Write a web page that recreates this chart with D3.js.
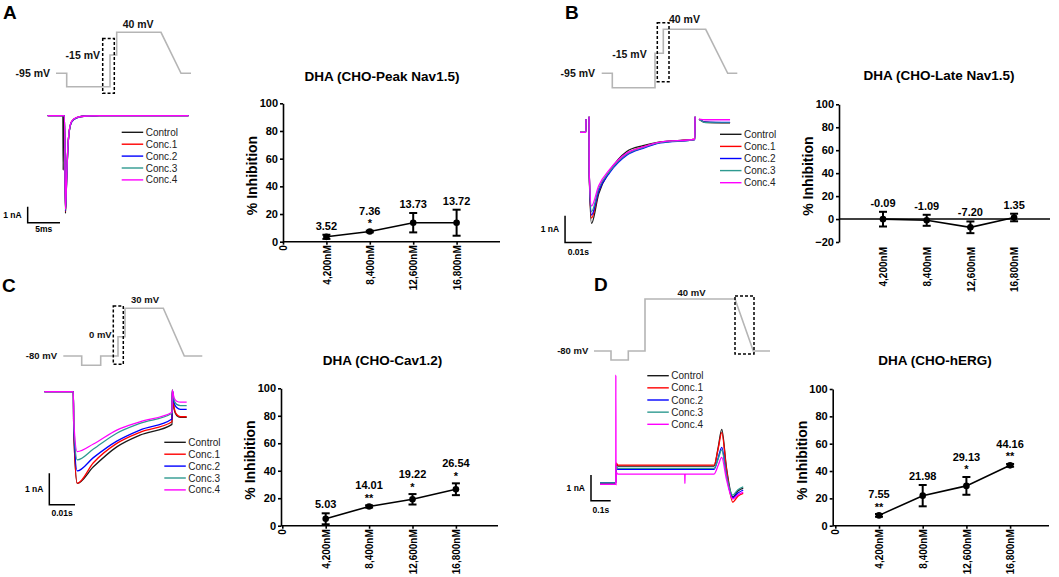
<!DOCTYPE html>
<html><head><meta charset="utf-8">
<script src="https://cdn.jsdelivr.net/npm/d3@7"></script>
<style>
body{margin:0;background:#fff;}
text{font-family:"Liberation Sans",Arial,sans-serif;}
</style></head><body>
<svg id="fig" width="1059" height="577"></svg>
<script>
// ---------------- DATA ----------------
const categories = ["4,200nM","8,400nM","12,600nM","16,800nM"];
const concentrations = [4200,8400,12600,16800];
const yTicksPos = [0,20,40,60,80,100];
const yTicksLate = [-20,0,20,40,60,80,100];

const peakNavMean = [3.52,7.36,13.73,13.72];
const peakNavSem  = [1.5,0.6,7.0,9.4];
const peakNavSig  = ["","*","",""];

const lateNavMean = [-0.09,-1.09,-7.20,1.35];
const lateNavSem  = [6.4,4.8,5.1,3.3];
const lateNavSig  = ["","","",""];

const cavMean = [5.03,14.01,19.22,26.54];
const cavSem  = [4.0,0.8,3.8,4.3];
const cavSig  = ["","**","*","*"];

const hergMean = [7.55,21.98,29.13,44.16];
const hergSem  = [1.0,7.8,6.5,1.0];
const hergSig  = ["**","","*","**"];

const legendNames = ["Control","Conc.1","Conc.2","Conc.3","Conc.4"];
const legendColors = ["#1a1a1a","#ff0000","#0000ff","#2e9a90","#ff00ff"];

// voltage protocols (schematic time ms, mV)
const protoA_t = [0,10.7,10.7,54,54,60.7,60.7,105,125,135];
const protoA_v = [-95,-95,-120,-120,-15,-15,40,40,-95,-95];
const protoB_t = [0,10.6,10.6,53.3,53.3,61.6,61.6,104,126,135.6];
const protoB_v = [-95,-95,-120,-120,-15,-15,40,40,-95,-95];
const protoC_t = [0,18.4,18.4,37.4,37.4,54.7,54.7,61.7,61.7,100,121,139];
const protoC_v = [-80,-80,-90,-90,-80,-80,0,0,30,30,-80,-80];
const protoD_t = [0,17,17,34.3,34.3,51,51,141,159.3,176];
const protoD_v = [-80,-80,-90,-90,-80,-80,40,40,-80,-80];

// current traces (time ms, current nA)
const traceA_t = [0,2.35,2.4,2.45,2.6,2.75,2.95,3.1,3.3,3.7,4.5,6,8,21.8];
const traceA_I = [
  [0,0,-3.4,0,0,-6.1,-3.8,-2.2,-1.1,-0.38,-0.12,-0.02,0,0],
  [0,0,0,0,0,-6.0,-3.7,-2.15,-1.08,-0.37,-0.12,-0.02,0,0],
  [0,0,0,0,0,-5.95,-3.75,-2.2,-1.1,-0.4,-0.13,-0.02,0,0],
  [0,0,0,0,0,-5.9,-3.7,-2.15,-1.08,-0.38,-0.12,-0.02,0,0],
  [0,0,0,0,0,-5.85,-3.6,-2.1,-1.05,-0.36,-0.11,-0.02,0,0]
];
const traceB_t = [0,2.2,2.25,2.3,3.4,3.45,4.3,7,11.2,17.5,23.6,30,43,43.1,43.2,44.6,47,56.2];
const traceB_I = [
  [0,0,0.49,null,0.58,-1.5,-3.41,-2.3,-1.45,-0.72,-0.50,-0.36,-0.26,0.58,null,0.49,0.38,0.36],
  [0,0,0.49,null,0.58,-1.5,-3.21,-2.2,-1.45,-0.80,-0.55,-0.38,-0.26,0.58,null,0.49,0.37,0.35],
  [0,0,0.49,null,0.58,-1.5,-3.10,-2.2,-1.50,-0.86,-0.60,-0.40,-0.27,0.58,null,0.49,0.38,0.37],
  [0,0,0.49,null,0.58,-1.5,-2.97,-2.1,-1.45,-0.82,-0.57,-0.39,-0.27,0.58,null,0.49,0.36,0.35],
  [0,0,0.49,null,0.58,-1.5,-2.76,-2.0,-1.38,-0.78,-0.55,-0.37,-0.26,0.58,null,0.49,0.47,0.47]
];
const traceC_t = [0,11.3,11.45,12.8,19.1,28.2,37.2,49.7,49.8,50.5,51.5,53,55.4];
const traceC_I = [
  [0,0,-1.2,-2.89,-2.37,-1.74,-1.37,-1.03,0.05,-0.55,-0.75,-0.81,-0.81],
  [0,0,-1.2,-2.89,-2.24,-1.63,-1.28,-0.95,0.05,-0.50,-0.72,-0.79,-0.79],
  [0,0,-1.1,-2.50,-2.08,-1.56,-1.21,-0.86,0.05,-0.35,-0.50,-0.56,-0.56],
  [0,0,-1.0,-2.15,-1.81,-1.31,-1.00,-0.68,0.05,-0.27,-0.40,-0.44,-0.44],
  [0,0,-0.9,-1.89,-1.65,-1.21,-0.95,-0.65,0.05,-0.20,-0.30,-0.33,-0.33]
];
const traceD_t = [0,80,80.5,81.5,83,90,430,431,432,579,600,618,642,674,700,727];
const traceD_I = [
  [0.02,0.02,0.3,0.6,0.75,0.67,0.67,0.67,0.67,0.67,1.4,2.10,0.6,-0.53,-0.30,-0.19],
  [0.0,0.0,0.3,0.6,0.78,0.71,0.71,0.71,0.71,0.71,1.35,1.97,0.55,-0.73,-0.50,-0.39],
  [0.02,0.02,0.3,0.5,0.62,0.54,0.54,0.54,0.54,0.54,1.0,1.40,0.3,-0.57,-0.38,-0.26],
  [0.02,0.02,0.3,0.5,0.66,0.58,0.58,0.58,0.58,0.58,0.95,1.30,0.3,-0.46,-0.25,-0.14],
  [-0.04,-0.04,4.21,-0.07,0.42,0.36,0.36,0.0,0.36,0.36,0.7,1.01,0.15,-0.61,-0.45,-0.34]
];

// ---------------- DRAWING ----------------
const svg = d3.select("#fig");
svg.append("rect").attr("width",1059).attr("height",577).attr("fill","#fff");

// panel letters
[["A",3,19],["B",565,19],["C",2,292],["D",594,291]].forEach(([t,x,y])=>{
  svg.append("text").attr("x",x).attr("y",y).text(t)
    .attr("font-size",19).attr("font-weight","bold").attr("fill","#000");
});

// ---- line charts
const chartCfgs = [
  {title:"DHA (CHO-Peak Nav1.5)", mean:peakNavMean, sem:peakNavSem, sig:peakNavSig,
   axisX:283, zeroX:283, span:217, axisEnd:500, yTop:103.3, yBottom:241.7, yDomain:[0,100], ticks:yTicksPos, titleX:382, titleY:76, showZero:true},
  {title:"DHA (CHO-Late Nav1.5)", mean:lateNavMean, sem:lateNavSem, sig:lateNavSig,
   axisX:839, zeroX:839.3, span:218.5, axisEnd:1050, yTop:104.3, yBottom:242, yDomain:[-20,100], ticks:yTicksLate, titleX:939, titleY:75, showZero:false},
  {title:"DHA (CHO-Cav1.2)", mean:cavMean, sem:cavSem, sig:cavSig,
   axisX:281, zeroX:282.3, span:217, axisEnd:498, yTop:388.3, yBottom:525.7, yDomain:[0,100], ticks:yTicksPos, titleX:382.5, titleY:360, showZero:true},
  {title:"DHA (CHO-hERG)", mean:hergMean, sem:hergSem, sig:hergSig,
   axisX:832.7, zeroX:835.3, span:218.5, axisEnd:1049, yTop:389, yBottom:525.7, yDomain:[0,100], ticks:yTicksPos, titleX:935, titleY:360, showZero:true}
];

function drawChart(c){
  const g = svg.append("g");
  const x = d3.scaleLinear().domain([0,21000]).range([c.zeroX, c.zeroX + c.span]);
  const y = d3.scaleLinear().domain(c.yDomain).range([c.yBottom, c.yTop]);

  g.append("text").attr("x",c.titleX).attr("y",c.titleY).attr("dy","0.35em")
    .attr("text-anchor","middle").attr("font-size",13.5).attr("font-weight","bold").text(c.title);

  const ya = g.append("g").attr("transform",`translate(${c.axisX},0)`)
    .call(d3.axisLeft(y).tickValues(c.ticks).tickSize(3).tickSizeOuter(0).tickPadding(2));
  ya.selectAll("path,line").attr("stroke","#000").attr("stroke-width",1.6);
  ya.selectAll("text").attr("font-size",11).attr("font-weight","bold").attr("fill","#000")
    .attr("font-family","Liberation Sans, Arial, sans-serif");

  g.append("text")
    .attr("transform",`translate(${c.axisX-31},${(c.yTop+c.yBottom)/2+3}) rotate(-90)`)
    .attr("text-anchor","middle").attr("dy","0.35em")
    .attr("font-size",14).attr("font-weight","bold").text("% Inhibition");

  // x axis line at zero
  g.append("line").attr("x1",c.axisX).attr("x2",c.axisEnd).attr("y1",y(0)).attr("y2",y(0))
    .attr("stroke","#000").attr("stroke-width",1.6);

  const tv = c.showZero ? [0].concat(concentrations) : concentrations;
  const tickSize = c.showZero ? 3 : 0;
  const xa = g.append("g").attr("transform",`translate(0,${c.yBottom})`)
    .call(d3.axisBottom(x).tickValues(tv).tickSize(tickSize)
      .tickFormat(d => d===0 ? "0" : categories[concentrations.indexOf(d)]));
  xa.select(".domain").remove();
  xa.selectAll("line").attr("stroke","#000").attr("stroke-width",1.6);
  xa.selectAll("text").attr("transform","rotate(-90)").attr("text-anchor","end")
    .attr("x", c.showZero ? -3.5 : -5).attr("y",0).attr("dy","0.36em")
    .attr("font-size",10).attr("font-weight","bold").attr("fill","#000")
    .attr("font-family","Liberation Sans, Arial, sans-serif");

  const pts = concentrations.map((cc,i)=>({x:cc, m:c.mean[i], e:c.sem[i], s:c.sig[i]}));
  g.append("path").datum(pts)
    .attr("d", d3.line().x(d=>x(d.x)).y(d=>y(d.m)))
    .attr("fill","none").attr("stroke","#000").attr("stroke-width",1.6);

  const eb = g.selectAll(".eb").data(pts).enter().append("g");
  eb.append("line").attr("x1",d=>x(d.x)).attr("x2",d=>x(d.x))
    .attr("y1",d=>y(d.m-d.e)).attr("y2",d=>y(d.m+d.e)).attr("stroke","#000").attr("stroke-width",2);
  [-1,1].forEach(sg=>{
    eb.append("line").attr("x1",d=>x(d.x)-4).attr("x2",d=>x(d.x)+4)
      .attr("y1",d=>y(d.m+sg*d.e)).attr("y2",d=>y(d.m+sg*d.e)).attr("stroke","#000").attr("stroke-width",2);
  });
  eb.append("circle").attr("cx",d=>x(d.x)).attr("cy",d=>y(d.m)).attr("r",3.3).attr("fill","#000");

  eb.append("text").attr("x",d=>x(d.x)).attr("text-anchor","middle")
    .attr("y",d=>y(d.m+d.e) - (d.s ? 20 : 9) + 4)
    .attr("font-size",11).attr("font-weight","bold").text(d=>d.m.toFixed(2));
  eb.filter(d=>d.s).append("text").attr("x",d=>x(d.x)).attr("text-anchor","middle")
    .attr("y",d=>y(d.m+d.e) - 9 + 5.5)
    .attr("font-size",11).attr("font-weight","bold").text(d=>d.s);
}
chartCfgs.forEach(drawChart);

// ---- voltage protocols
const protoCfgs = [
  {t:protoA_t, v:protoA_v, x0:56, yDom:[-120,-95,-15,40], yRng:[86.7,73.3,55,32.3], box:[46.7,58.3,-132,25], fs:10.5,
   labels:[["-95 mV",-6,-95,"end",0],["-15 mV",44,-15,"end",0],["40 mV",66.7,40,"start",-8]]},
  {t:protoB_t, v:protoB_v, x0:601.7, yDom:[-120,-95,-15,40], yRng:[87.7,73.3,53.3,29.3], box:[55.6,67.3,-109.6,55.1], fs:10.5,
   labels:[["-95 mV",-6.7,-95,"end",0],["-15 mV",45,-15,"end",0.7],["40 mV",67.3,40,"start",-10]]},
  {t:protoC_t, v:protoC_v, x0:63.3, yDom:[-90,-80,0,30], yRng:[365.3,356,336.7,308.3], box:[50,60,-88.9,32.4], fs:9.5,
   labels:[["-80 mV",-6.3,-80,"end",0],["0 mV",48.4,0,"end",-1.7],["30 mV",67.7,30,"start",-9]]},
  {t:protoD_t, v:protoD_v, x0:594, yDom:[-90,-80,40], yRng:[360,351,299], box:[141,160,-83.3,46.9], fs:9.5,
   labels:[["-80 mV",-5.7,-80,"end",0],["40 mV",97.5,40,"middle",-6.7]]}
];
protoCfgs.forEach(p=>{
  const xs = d3.scaleLinear().domain([0,1]).range([p.x0, p.x0+1]);
  const ys = d3.scaleLinear().domain(p.yDom).range(p.yRng);
  const data = p.t.map((t,i)=>[t,p.v[i]]);
  svg.append("path").datum(data).attr("d",d3.line().x(d=>xs(d[0])).y(d=>ys(d[1])))
    .attr("fill","none").attr("stroke","#b5b5b5").attr("stroke-width",1.6);
  const [t0,t1,v0,v1] = p.box;
  svg.append("rect").attr("x",xs(t0)).attr("y",ys(v1)).attr("width",xs(t1)-xs(t0)).attr("height",ys(v0)-ys(v1))
    .attr("fill","none").attr("stroke","#000").attr("stroke-width",1.5).attr("stroke-dasharray","3,2");
  p.labels.forEach(([txt,t,v,anc,dy])=>{
    svg.append("text").attr("x",xs(t)).attr("y",ys(v)+dy).attr("dy","0.35em")
      .attr("text-anchor",anc).attr("font-size",p.fs).attr("font-weight","bold").attr("fill","#111").text(txt);
  });
});

// ---- current traces
const traceCfgs = [
  {t:traceA_t, I:traceA_I, t0:47.7, pxMs:6.46, i0:115.7, pxNA:16,
   bar:{t:-3.1, i:-6.69, dt:5, di:1, tl:"5ms", il:"1 nA", lab:6},
   leg:{x:121.7, y:132.3, dy:11.9}},
  {t:traceB_t, I:traceB_I, t0:580, pxMs:2.67, i0:132.3, pxNA:26.7,
   bar:{t:-5.6, i:-4.13, dt:10, di:1, tl:"0.01s", il:"1 nA", lab:9},
   leg:{x:720, y:134.3, dy:12.1}},
  {t:traceC_t, I:traceC_I, t0:44.3, pxMs:2.57, i0:391.7, pxNA:31.7,
   bar:{t:1.95, i:-3.57, dt:10, di:1, tl:"0.01s", il:"1 nA", lab:7.7},
   leg:{x:164.3, y:442.3, dy:11.9}},
  {t:traceD_t, I:traceD_I, t0:600, pxMs:0.197, i0:483.3, pxNA:25.7,
   bar:{t:-45.7, i:-0.68, dt:100, di:1, tl:"0.1s", il:"1 nA", lab:9.3},
   leg:{x:647.3, y:375.7, dy:12.15}}
];
traceCfgs.forEach(c=>{
  const x = d3.scaleLinear().domain([0,1]).range([c.t0, c.t0 + c.pxMs]);
  const y = d3.scaleLinear().domain([0,-1]).range([c.i0, c.i0 + c.pxNA]);
  const line = d3.line().defined(d=>d[1]!==null).x(d=>x(d[0])).y(d=>y(d[1])).curve(d3.curveMonotoneX);
  c.I.forEach((ser,k)=>{
    svg.append("path").datum(c.t.map((t,i)=>[t,ser[i]])).attr("d",line)
      .attr("fill","none").attr("stroke",legendColors[k]).attr("stroke-width",1.3);
  });
  const b = c.bar;
  svg.append("path").attr("d",`M${x(b.t)},${y(b.i+b.di)}L${x(b.t)},${y(b.i)}L${x(b.t+b.dt)},${y(b.i)}`)
    .attr("fill","none").attr("stroke","#000").attr("stroke-width",1.5);
  svg.append("text").attr("x",x(b.t)-6).attr("y",(y(b.i)+y(b.i+b.di))/2).attr("dy","0.35em")
    .attr("text-anchor","end").attr("font-size",8.5).attr("font-weight","bold").text(b.il);
  svg.append("text").attr("x",(x(b.t)+x(b.t+b.dt))/2).attr("y",y(b.i)+b.lab).attr("dy","0.35em")
    .attr("text-anchor","middle").attr("font-size",8.5).attr("font-weight","bold").text(b.tl);
  legendNames.forEach((nm,k)=>{
    const yy = c.leg.y + k*c.leg.dy;
    svg.append("line").attr("x1",c.leg.x).attr("x2",c.leg.x+21.5).attr("y1",yy).attr("y2",yy)
      .attr("stroke",legendColors[k]).attr("stroke-width",1.4);
    svg.append("text").attr("x",c.leg.x+24).attr("y",yy).attr("dy","0.35em")
      .attr("font-size",10).attr("fill","#222").text(nm);
  });
});
</script>
</body></html>
